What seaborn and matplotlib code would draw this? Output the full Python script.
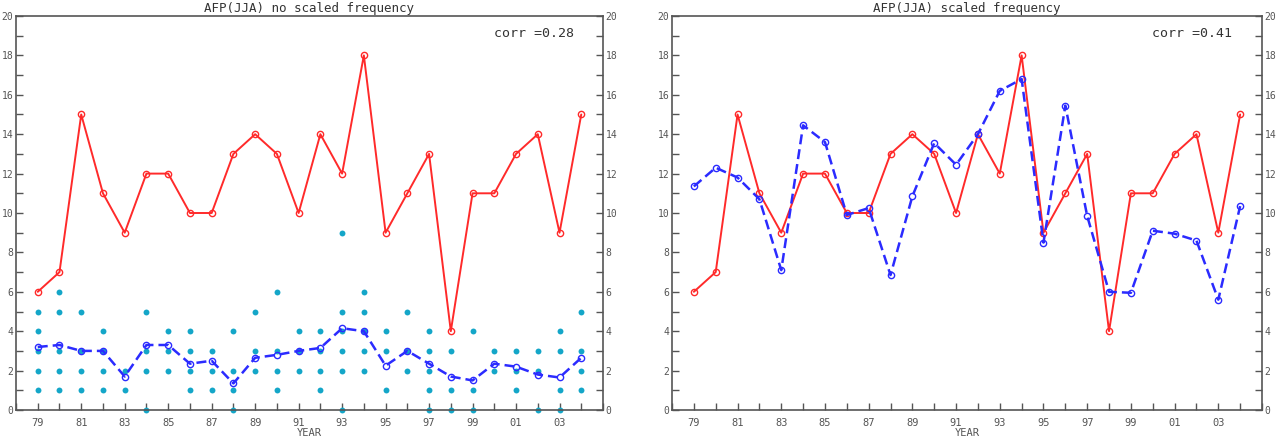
import numpy as np
import pandas as pd
import matplotlib
matplotlib.use('Agg')
import matplotlib.pyplot as plt
from matplotlib.ticker import MultipleLocator, FixedLocator
import seaborn as sns

years = list(range(1979, 2005))
obs_freq = [6, 7, 15, 11, 9, 12, 12, 10, 10, 13, 14, 13, 10, 14, 12, 18, 9, 11, 13, 4, 11, 11, 13, 14, 9, 15]
ens_mean = [3.2, 3.3, 3.0, 3.0, 1.7, 3.3, 3.3, 2.35, 2.5, 1.35, 2.65, 2.8, 3.0, 3.15, 4.15, 4.0,
            2.25, 3.0, 2.35, 1.7, 1.5, 2.35, 2.2, 1.8, 1.65, 2.65]
scaled_mean = [11.35, 12.3, 11.8, 10.7, 7.1, 14.45, 13.6, 9.9, 10.25, 6.85, 10.85, 13.55, 12.45,
               14.0, 16.2, 16.8, 8.5, 15.45, 9.85, 6.0, 5.95, 9.1, 8.95, 8.6, 5.6, 10.35]
# individual member counts per year
members = [
    [5, 4, 3, 2, 1], [6, 5, 3, 2, 1], [5, 3, 2, 1], [4, 3, 2, 1], [2, 1],
    [5, 3, 2, 0], [4, 3, 2], [4, 3, 2, 1], [3, 2, 1], [4, 2, 1, 0],
    [5, 3, 2], [6, 3, 2, 1], [4, 3, 2], [4, 3, 2, 1], [9, 5, 4, 3, 2, 0],
    [6, 5, 4, 3, 2], [4, 3, 1], [5, 3, 2], [4, 3, 2, 1, 0], [3, 1, 0],
    [4, 1, 0], [3, 2], [3, 2, 1], [3, 2, 0], [4, 3, 1, 0], [5, 3, 2, 1],
]
year_labels = ['79', '81', '83', '85', '87', '89', '91', '93', '95', '97', '99', '01', '03']
titles = ['AFP(JJA) no scaled frequency', 'AFP(JJA) scaled frequency']
corrs = ['corr =0.28', 'corr =0.41']

dots = pd.DataFrame([(y, v) for y, vals in zip(years, members) for v in vals], columns=['year', 'n'])
df = pd.DataFrame({'year': years, 'obs': obs_freq, 'mean': ens_mean, 'scaled': scaled_mean})

sns.set_style('white')
plt.rcParams['font.family'] = ['DejaVu Sans Mono']

RED = '#ff2a2a'
BLUE = '#2b2bff'
CYAN = '#14a6c8'
GREY = '#555555'

fig = plt.figure(figsize=(12.87, 4.36), dpi=100)
ax1 = fig.add_axes([16 / 1287, 26 / 436, 587 / 1287, 394 / 436])
ax2 = fig.add_axes([672 / 1287, 26 / 436, 590 / 1287, 394 / 436])

sns.scatterplot(data=dots, x='year', y='n', ax=ax1, color=CYAN, marker='o', s=18,
                linewidth=0, clip_on=False, zorder=2)
for ax, col in zip([ax1, ax2], ['mean', 'scaled']):
    sns.lineplot(data=df, x='year', y='obs', ax=ax, color=RED, lw=1.4, marker='o', ms=4.5,
                 mfc='none', mec=RED, mew=1.0, zorder=3)
    sns.lineplot(data=df, x='year', y=col, ax=ax, color=BLUE, lw=1.8, ls=(0, (4, 2)),
                 marker='o', ms=4.5, mfc='none', mec=BLUE, mew=1.0, zorder=4)

for ax, t, c in zip([ax1, ax2], titles, corrs):
    ax.set_xlim(1978, 2005)
    ax.set_ylim(0, 20)
    ax.xaxis.set_major_locator(FixedLocator(list(range(1979, 2005, 2))))
    ax.set_xticklabels(year_labels)
    ax.xaxis.set_minor_locator(MultipleLocator(1))
    ax.yaxis.set_major_locator(MultipleLocator(2))
    ax.yaxis.set_minor_locator(MultipleLocator(1))
    ax.tick_params(axis='x', which='both', direction='in', bottom=True, top=False,
                   length=5, width=1, color=GREY, labelsize=7.5, labelcolor='#555555', pad=6)
    ax.tick_params(axis='y', which='both', direction='in', left=True, right=True,
                   labelleft=True, labelright=True, length=5, width=1, color=GREY,
                   labelsize=7, labelcolor='#555555', pad=2)
    for sp in ax.spines.values():
        sp.set_color(GREY)
        sp.set_linewidth(1.2)
    ax.set_xlabel('YEAR', fontsize=7.5, color='#555555', labelpad=0)
    ax.set_ylabel('')
    ax.set_title(t, fontsize=9, color='#333333', pad=3)
    ax.text(0.95, 0.955, c, transform=ax.transAxes, ha='right', va='center',
            fontsize=9.5, color='#333333')

fig.savefig('out.png', dpi=100)
